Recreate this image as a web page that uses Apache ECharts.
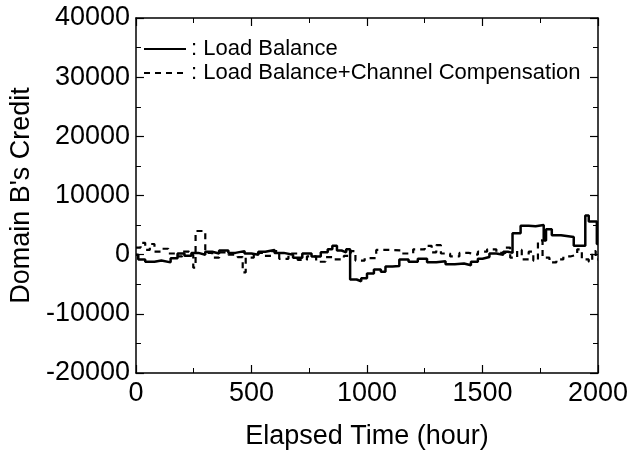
<!DOCTYPE html>
<html>
<head>
<meta charset="utf-8">
<script src="https://cdn.jsdelivr.net/npm/echarts@6/dist/echarts.min.js"></script>
<style>
	html, body { margin: 0; padding: 0; background: #fff; }
	#chart { width: 632px; height: 455px; }
</style>
</head>
<body>
<div id="chart"></div>
<script>
	// Load Balance (solid)
	var lbHours = [0, 10, 40, 80, 110, 150, 180, 210, 240, 270, 300, 330, 360, 400, 430, 470, 500, 530, 560, 600,
		640, 680, 720, 760, 800, 830, 850, 870, 890, 910, 927, 955, 975, 1000, 1030, 1060, 1080, 1110, 1140, 1180,
		1220, 1260, 1300, 1340, 1380, 1420, 1450, 1480, 1500, 1530, 1560, 1590, 1610, 1630, 1665, 1700, 1730, 1765,
		1775, 1800, 1840, 1895, 1945, 1960, 1995, 2000];
	var lbCredit = [0, -800, -1200, -1000, -1300, -600, 200, -200, 300, 0, 500, 200, 700, 300, 600, 200, 0, 500, 800, 300,
		0, -500, 200, -300, 400, 900, 1500, 700, 400, 900, -4200, -4500, -4000, -3200, -2500, -2900, -2000, -1900, -800, -1200,
		-700, -1300, -1100, -1600, -1500, -1800, -1200, -700, -400, 200, 0, 500, 300, 3600, 4900, 4800, 5000, 2400,
		4300, 3300, 3000, 1500, 6600, 5600, 1800, 1800];

	// Load Balance + Channel Compensation (dashed)
	var lbccHours = [0, 20, 40, 60, 80, 110, 140, 170, 200, 230, 248, 258, 300, 330, 360, 400, 440, 462, 475, 510,
		550, 590, 620, 660, 700, 740, 780, 820, 860, 900, 930, 950, 990, 1040, 1100, 1150, 1200, 1250, 1280, 1300,
		1320, 1360, 1400, 1440, 1480, 1520, 1560, 1600, 1620, 1650, 1670, 1700, 1720, 1740, 1760, 1790, 1820, 1850,
		1880, 1910, 1930, 1960, 1975, 1990, 2000];
	var lbccCredit = [1200, 2000, 800, 1800, 500, 1000, 200, -300, 500, 0, -2200, 4000, 300, -500, 400, 0, -400, -3000, -500, 300,
		-200, 600, -700, 200, -900, -300, -1200, -400, -800, -200, 600, -1000, -600, 800, 700, 200, 900, 1500, 400, 1600,
		200, -300, 300, 0, 500, 900, 300, 1200, -500, 800, -800, 500, -1000, 2400, -500, -1300, -800, -300,
		0, 900, -800, -1200, 600, -800, -800];

	var seriesNames = ['Load Balance', 'Load Balance+Channel Compensation'];

	function pairs(xs, ys) {
		var out = [];
		for (var i = 0; i < xs.length; i++) out.push([xs[i], ys[i]]);
		return out;
	}
	function plain(v) { return String(v); }

	var font = 'Liberation Sans, Arial, Helvetica, sans-serif';
	var tickStyle = { show: true, inside: true, length: 8, lineStyle: { color: '#000', width: 1.2 } };
	var minorStyle = { show: true, splitNumber: 2, length: 5, lineStyle: { color: '#000', width: 1 } };
	var axisLine = { show: true, onZero: false, lineStyle: { color: '#000', width: 1.5 } };

	var chart = echarts.init(document.getElementById('chart'));
	chart.setOption({
		animation: false,
		backgroundColor: '#fff',
		grid: { left: 134, right: 34, top: 18, bottom: 81 },
		legend: {
			orient: 'vertical',
			left: 143,
			top: 38,
			padding: 0,
			itemWidth: 42,
			itemHeight: 14,
			itemGap: 2,
			itemStyle: { opacity: 0 },
			formatter: ': {name}',
			textStyle: { fontFamily: font, fontSize: 22, color: '#000' },
			data: seriesNames
		},
		xAxis: [{
			type: 'value',
			min: 0, max: 2000, interval: 500,
			name: 'Elapsed Time (hour)',
			nameLocation: 'middle',
			nameGap: 50,
			nameTextStyle: { fontFamily: font, fontSize: 27, color: '#000' },
			axisLine: axisLine,
			axisTick: tickStyle,
			minorTick: minorStyle,
			splitLine: { show: false },
			axisLabel: { fontFamily: font, fontSize: 27, color: '#000', margin: 7, formatter: plain }
		}, {
			type: 'value', position: 'top',
			min: 0, max: 2000, interval: 500,
			axisLine: axisLine,
			axisTick: tickStyle,
			minorTick: minorStyle,
			splitLine: { show: false },
			axisLabel: { show: false }
		}],
		yAxis: [{
			type: 'value',
			min: -20000, max: 40000, interval: 10000,
			name: "Domain B's Credit",
			nameLocation: 'middle',
			nameGap: 98,
			nameTextStyle: { fontFamily: font, fontSize: 27, color: '#000' },
			axisLine: axisLine,
			axisTick: tickStyle,
			minorTick: minorStyle,
			splitLine: { show: false },
			axisLabel: { fontFamily: font, fontSize: 27, color: '#000', margin: 6, formatter: plain }
		}, {
			type: 'value', position: 'right',
			min: -20000, max: 40000, interval: 10000,
			axisLine: axisLine,
			axisTick: tickStyle,
			minorTick: minorStyle,
			splitLine: { show: false },
			axisLabel: { show: false }
		}],
		series: [{
			name: seriesNames[0],
			type: 'line',
			step: 'end',
			symbol: 'none',
			lineStyle: { color: '#000', width: 2.5, type: 'solid' },
			itemStyle: { color: '#000' },
			data: pairs(lbHours, lbCredit)
		}, {
			name: seriesNames[1],
			type: 'line',
			step: 'end',
			symbol: 'none',
			lineStyle: { color: '#000', width: 2.2, type: [6, 5] },
			itemStyle: { color: '#000' },
			data: pairs(lbccHours, lbccCredit)
		}]
	});
</script>
</body>
</html>
